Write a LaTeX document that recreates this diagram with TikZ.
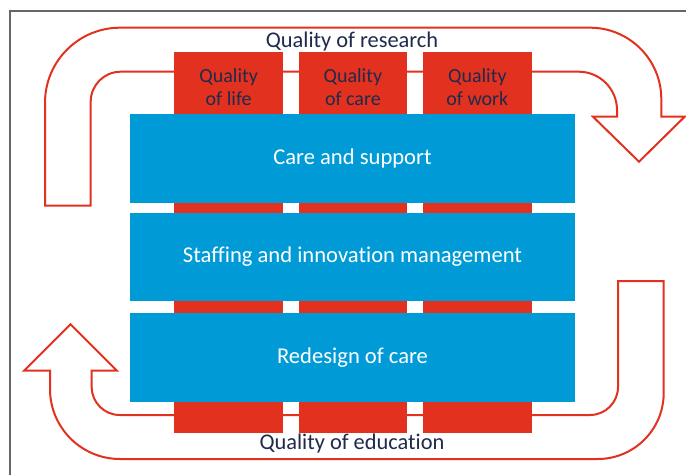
\documentclass[tikz,border=0pt]{standalone}
\usepackage{fontspec}
\setmainfont{Carlito}[Ligatures=NoCommon]
\definecolor{qred}{HTML}{E2321F}
\definecolor{qblue}{HTML}{009BD7}
\definecolor{qnavy}{HTML}{1F2A4C}
\definecolor{qframe}{HTML}{666666}
\begin{document}
\begin{tikzpicture}[x=1pt,y=1pt,
  loop/.style={draw=qred,line width=2pt,fill=white,line join=miter},
  colbox/.style={fill=qred,inner sep=0pt,minimum width=108.7pt,minimum height=381.6pt},
  layer/.style={fill=qblue,inner sep=0pt,minimum width=444.4pt,minimum height=88.4pt,text=white,font=\fontsize{22.6}{26}\selectfont},
  coltext/.style={text=qnavy,align=center,font=\fontsize{20}{23.5}\selectfont},
  looptext/.style={text=qnavy,font=\fontsize{22.4}{26}\selectfont}]
\useasboundingbox (0,0) rectangle (686,475);
\fill[white] (0,0) rectangle (686,475);
\draw[qframe,line width=1.8pt] (10,0) -- (10,464) -- (686,464);
% top loop arrow
\draw[loop] (45,269.3) -- (45,372.3) arc[start angle=180,end angle=90,radius=75]
  -- (590,447.3) arc[start angle=90,end angle=0,radius=71.3]
  -- (661.3,358.3) -- (684.7,358.3) -- (639,313.3) -- (593,358.3) -- (617,358.3)
  -- (617,365) arc[start angle=0,end angle=90,radius=38.3]
  -- (120.7,403.3) arc[start angle=90,end angle=180,radius=30]
  -- (90.7,269.3) -- cycle;
% bottom loop arrow
\draw[loop] (618,194) -- (663.7,194) -- (663.7,82) arc[start angle=0,end angle=-90,radius=66]
  -- (120,16) arc[start angle=270,end angle=180,radius=70]
  -- (50,104.3) -- (24,104.3) -- (70.5,150.7) -- (117,104.3) -- (91.7,104.3)
  -- (91.7,88) arc[start angle=180,end angle=270,radius=28]
  -- (590,60) arc[start angle=-90,end angle=0,radius=28] -- cycle;
% columns
\node[colbox] (c1) at (228.65,232.5) {};
\node[colbox] (c2) at (352.85,232.5) {};
\node[colbox] (c3) at (477.35,232.5) {};
\node[coltext] (t1) at (228.65,388) {Quality\\of life};
\node[coltext] (t2) at (352.85,388) {Quality\\of care};
\node[coltext] (t3) at (477.35,388) {Quality\\of work};
% layers
\node[layer] (l1) at (352.5,316.5) {Care and support};
\node[layer] (l2) at (352.5,218) {Staffing and innovation management};
\node[layer] (l3) at (352.5,117.65) {Redesign of care};
% loop labels
\node[looptext] (research) at (352,433.5) {Quality of research};
\node[looptext] (education) at (352,31) {Quality of education};
\end{tikzpicture}
\end{document}
